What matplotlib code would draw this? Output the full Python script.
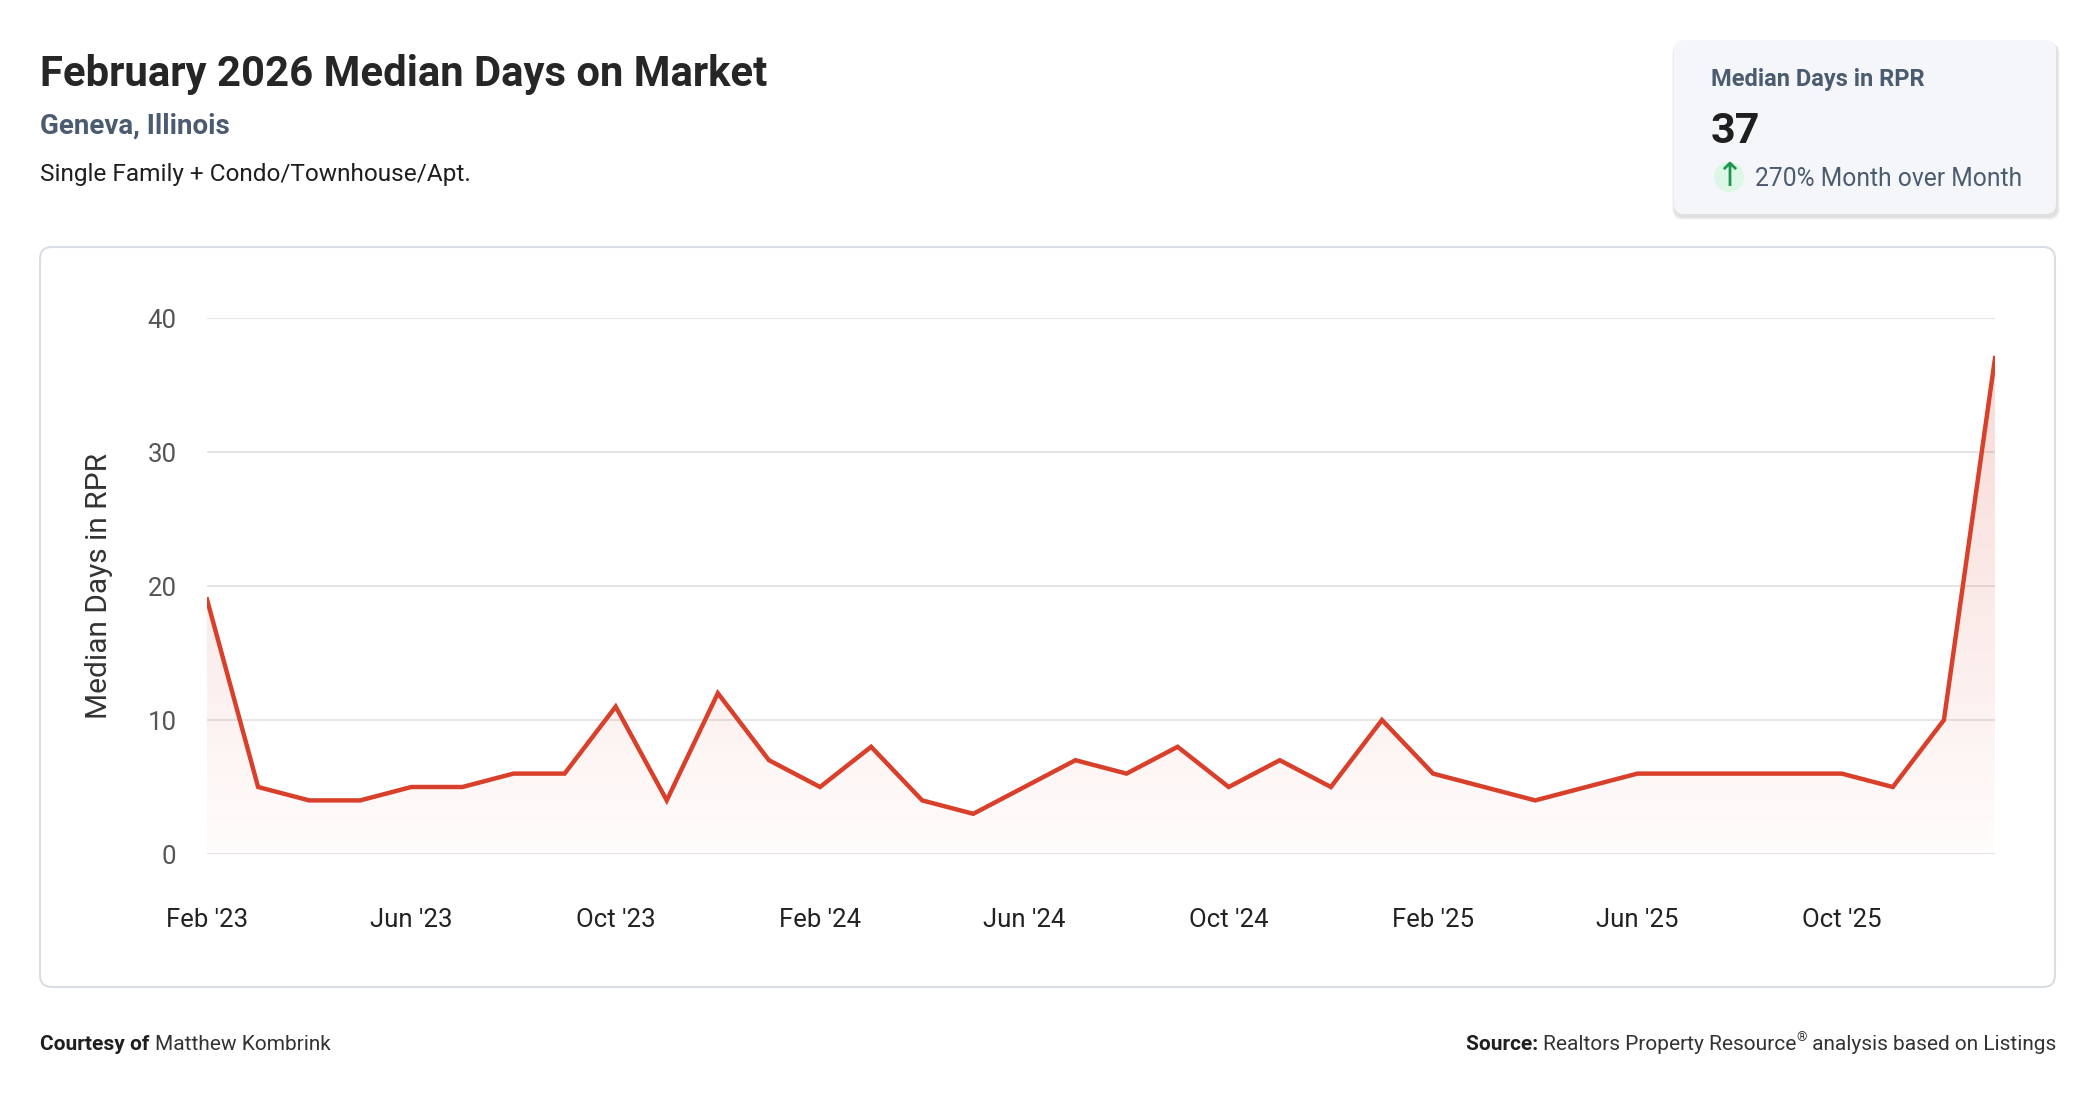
import matplotlib
matplotlib.use("Agg")
import matplotlib.pyplot as plt
import numpy as np
from matplotlib.patches import FancyBboxPatch, Circle, Polygon
from matplotlib.transforms import IdentityTransform

plt.rcParams['font.family'] = ['Roboto', 'DejaVu Sans']

# ---- data ----
months = ["Feb '23", "Mar '23", "Apr '23", "May '23", "Jun '23", "Jul '23", "Aug '23", "Sep '23",
          "Oct '23", "Nov '23", "Dec '23", "Jan '24", "Feb '24", "Mar '24", "Apr '24", "May '24",
          "Jun '24", "Jul '24", "Aug '24", "Sep '24", "Oct '24", "Nov '24", "Dec '24", "Jan '25",
          "Feb '25", "Mar '25", "Apr '25", "May '25", "Jun '25", "Jul '25", "Aug '25", "Sep '25",
          "Oct '25", "Nov '25", "Dec '25", "Jan '26"]
median_days = [19, 5, 4, 4, 5, 5, 6, 6, 11, 4, 12, 7, 5, 8, 4, 3, 5, 7, 6, 8, 5, 7, 5, 10,
               6, 5, 4, 5, 6, 6, 6, 6, 6, 5, 10, 37]
tick_every = 4
y_ticks = [0, 10, 20, 30, 40]

title = "February 2026 Median Days on Market"
location = "Geneva, Illinois"
segment = "Single Family + Condo/Townhouse/Apt."
kpi_label = "Median Days in RPR"
kpi_value = "37"
kpi_change = "270% Month over Month"

W, H = 2096, 1100
fig = plt.figure(figsize=(W / 100, H / 100), dpi=100)
fig.patch.set_facecolor("white")


def fx(x):
    return x / W


def fy(y):
    return 1 - y / H


def px_box(x0, y0, x1, y1, **kw):
    # rounded box in pixel coords (top-left origin)
    p = FancyBboxPatch((x0, H - y1), x1 - x0, y1 - y0, transform=IdentityTransform(), **kw)
    fig.patches.append(p)
    return p


# ---- header ----
fig.text(fx(40), fy(86), title, fontsize=30.2, fontweight="bold", color="#262626", va="baseline")
fig.text(fx(40), fy(134), location, fontsize=20, fontweight="bold", color="#4b5b70", va="baseline")
fig.text(fx(40), fy(181), segment, fontsize=17.6, color="#1f1f1f", va="baseline")

# ---- kpi card ----
for i, a in enumerate([0.05, 0.04, 0.03]):
    px_box(1674 - i, 40 + 2 + i, 2056 + 2 + i, 214 + 4 + i,
           boxstyle="round,pad=0,rounding_size=10", fc="black", ec="none", alpha=a, zorder=-2)
px_box(1674, 40, 2056, 214, boxstyle="round,pad=0,rounding_size=10", fc="#f4f6f9", ec="none",
       zorder=-2)
fig.text(fx(1711), fy(86), kpi_label, fontsize=17, fontweight="bold", color="#4b5b70", va="baseline")
fig.text(fx(1711), fy(143), kpi_value, fontsize=31, fontweight="bold", color="#1f1f1f", va="baseline")
circ = Circle((1729, H - 177), 15, transform=IdentityTransform(), fc="#dcf7e5", ec="none",
              zorder=-1)
fig.patches.append(circ)
fig.text(fx(1729), fy(177), "↑", fontsize=24, color="#1e9650", ha="center", va="center",
         family=["DejaVu Sans"])
fig.text(fx(1755), fy(186), kpi_change, fontsize=17.7, color="#4b5b70", va="baseline")

# ---- chart box ----
px_box(40, 247, 2055, 987, boxstyle="round,pad=0,rounding_size=12", fc="white",
       ec="#d9dee4", lw=1.5, zorder=-2)

# ---- axes ----
L, R, T, B = 207, 1995, 318, 854
ax = fig.add_axes([fx(L), 1 - B / H, (R - L) / W, (B - T) / H])
ax.set_facecolor("none")
x = np.arange(len(median_days))
ax.set_xlim(0, len(median_days) - 1)
ax.set_ylim(0, 40)

# gradient fill under the line
top = max(median_days)
grad = np.zeros((256, 1, 4))
grad[..., 0] = 0.85
grad[..., 1] = 0.26
grad[..., 2] = 0.18
grad[:, 0, 3] = np.linspace(0.20, 0.015, 256)
img = ax.imshow(grad, extent=[0, len(median_days) - 1, 0, top], aspect="auto",
                origin="upper", zorder=1)
poly = Polygon(np.vstack([np.column_stack([x, median_days]),
                          [[x[-1], 0], [0, 0]]]), closed=True, fc="none", ec="none",
               transform=ax.transData)
ax.add_patch(poly)
img.set_clip_path(poly)

ax.plot(x, median_days, color="#d9402b", lw=3.2, zorder=3, solid_joinstyle="miter")

ax.set_yticks(y_ticks)
ax.grid(axis="y", color="#e3e3e3", lw=1.3)
ax.set_axisbelow(True)
ax.set_xticks(x[::tick_every])
ax.set_xticklabels(months[::tick_every])
ax.tick_params(axis="x", length=0, pad=39, labelsize=18.5, labelcolor="#222222")
ax.tick_params(axis="y", length=0, pad=22, labelsize=18.5, labelcolor="#555555")
for s in ax.spines.values():
    s.set_visible(False)
ax.set_ylabel("Median Days in RPR", fontsize=21.5, color="#333333")
ax.yaxis.set_label_coords(-0.0526, 0.5)

# ---- footer ----
fig.canvas.draw()
r = fig.canvas.get_renderer()
fs = 15
t1 = fig.text(fx(40), fy(1050), "Courtesy of ", fontsize=fs, fontweight="bold",
              color="#1f1f1f", va="baseline")
bb = t1.get_window_extent(r)
fig.text(bb.x1 / W, fy(1050), "Matthew Kombrink", fontsize=fs, color="#333333", va="baseline")

t2 = fig.text(fx(2056), fy(1050), " analysis based on Listings", fontsize=fs, color="#333333",
              ha="right", va="baseline")
bb = t2.get_window_extent(r)
t3 = fig.text(bb.x0 / W, fy(1041), "®", fontsize=9.5, color="#333333", ha="right", va="baseline")
bb = t3.get_window_extent(r)
t4 = fig.text(bb.x0 / W, fy(1050), "Realtors Property Resource", fontsize=fs, color="#333333",
              ha="right", va="baseline")
bb = t4.get_window_extent(r)
fig.text(bb.x0 / W, fy(1050), "Source: ", fontsize=fs, fontweight="bold", color="#1f1f1f",
         ha="right", va="baseline")

fig.savefig("out.png", dpi=100, facecolor="white")
